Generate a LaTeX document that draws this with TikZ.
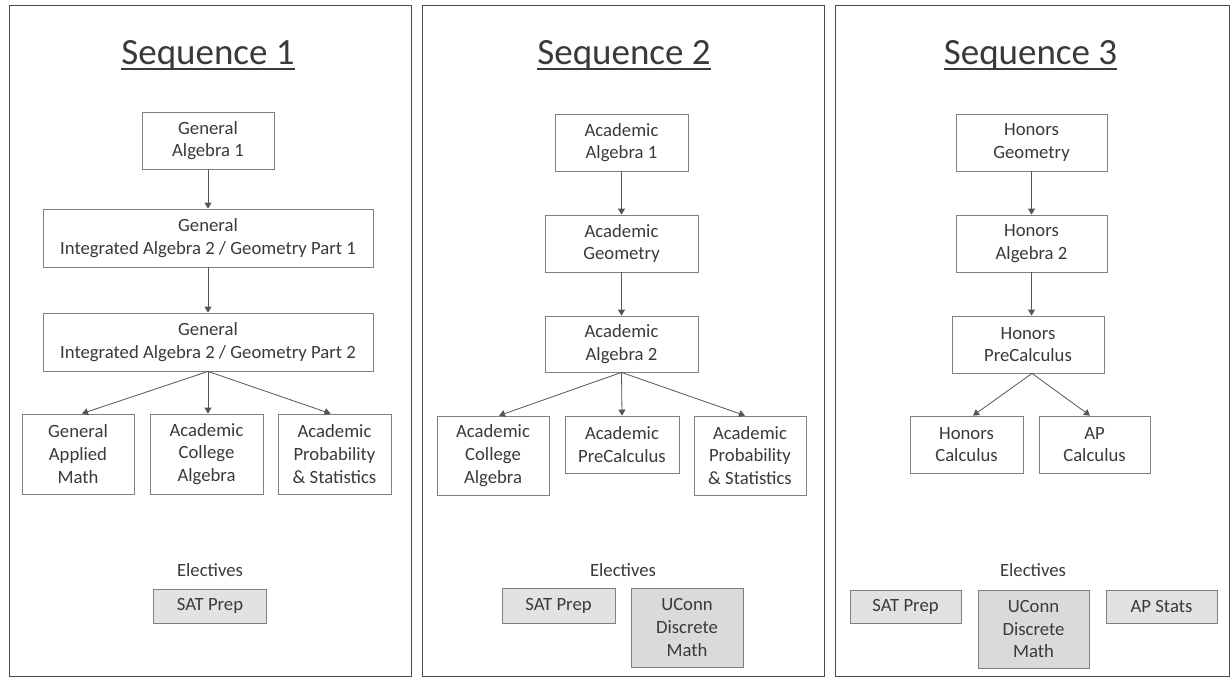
\documentclass[tikz,border=0pt]{standalone}
\usepackage{fontspec}
\setmainfont{Carlito}
\usetikzlibrary{arrows.meta}
\definecolor{txt}{HTML}{3A3A3A}
\definecolor{boxc}{HTML}{808080}
\definecolor{arrc}{HTML}{555555}
\definecolor{panc}{HTML}{4A4A4A}
\definecolor{elecfill}{HTML}{E2E2E2}
\definecolor{elecfillb}{HTML}{DADADA}
\begin{document}
\begin{tikzpicture}[x=1pt,y=-1pt,
 box/.style={draw=boxc, line width=0.8pt, text=txt, align=center, inner sep=0pt, font=\fontsize{18.7}{22.7}\selectfont},
 elec/.style={box, fill=elecfill},
 elecb/.style={box, fill=elecfillb},
 arr/.style={draw=arrc, line width=0.8pt, -{Triangle[length=6pt,width=7pt]}},
 panel/.style={draw=panc, line width=1pt},
 title/.style={text=txt, inner sep=0pt, anchor=base, font=\fontsize{37}{42}\selectfont},
 lbl/.style={text=txt, inner sep=0pt, font=\fontsize{18.7}{22.7}\selectfont}]
\useasboundingbox (0,0) rectangle (1231,677);
\fill[white] (0,0) rectangle (1231,677);
% panels
\draw[panel] (9,6) rectangle (411,676);
\draw[panel] (422,6) rectangle (824,676);
\draw[panel] (835,6) rectangle (1229,676);
% titles
\node[title] (t1) at (208,64) {Sequence 1};
\node[title] (t2) at (624,64) {Sequence 2};
\node[title] (t3) at (1030.5,64) {Sequence 3};
\foreach \t in {t1,t2,t3}
  \draw[txt, line width=1.2pt] ([yshift=-5pt]\t.base west) -- ([yshift=-5pt]\t.base east);
% ---- Sequence 1
\node[box, minimum width=132pt, minimum height=57pt] (g1) at (208,140.5) {General\\Algebra 1};
\node[box, minimum width=330pt, minimum height=58pt] (g2) at (208,238) {General\\Integrated Algebra 2 / Geometry Part 1};
\node[box, minimum width=330pt, minimum height=58pt] (g3) at (208,342) {General\\Integrated Algebra 2 / Geometry Part 2};
\node[box, minimum width=112pt, minimum height=80pt] (g4) at (78,454) {General\\Applied\\Math};
\node[box, minimum width=113pt, minimum height=80pt] (g5) at (206.5,454) {Academic\\College\\Algebra};
\node[box, minimum width=113pt, minimum height=80pt] (g6) at (334.5,454) {Academic\\Probability\\\& Statistics};
\draw[arr] (g1) -- (g2);
\draw[arr] (g2) -- (g3);
\draw[arr] (g3.south) -- ([xshift=4pt]g4.north);
\draw[arr] (g3.south) -- ([xshift=1.5pt]g5.north);
\draw[arr] (g3.south) -- ([xshift=-4pt]g6.north);
\node[lbl] (e1) at (210,570) {Electives};
\node[elec, minimum width=113pt, minimum height=34pt] (s1) at (210,606) {SAT Prep};
% ---- Sequence 2
\node[box, minimum width=133pt, minimum height=57pt] (a1) at (621.5,142.5) {Academic\\Algebra 1};
\node[box, minimum width=153pt, minimum height=57pt] (a2) at (621.5,243.5) {Academic\\Geometry};
\node[box, minimum width=153pt, minimum height=56pt] (a3) at (621.5,344) {Academic\\Algebra 2};
\node[box, minimum width=112pt, minimum height=79pt] (a4) at (493,455.5) {Academic\\College\\Algebra};
\node[box, minimum width=114pt, minimum height=57pt] (a5) at (622,444.5) {Academic\\PreCalculus};
\node[box, minimum width=112pt, minimum height=79pt] (a6) at (750,455.5) {Academic\\Probability\\\& Statistics};
\draw[arr] (a1) -- (a2);
\draw[arr] (a2) -- (a3);
\draw[arr] (a3.south) -- ([xshift=6pt]a4.north);
\draw[arr] (a3.south) -- (a5.north);
\draw[arr] (a3.south) -- ([xshift=-5pt]a6.north);
\node[lbl] (e2) at (623,570) {Electives};
\node[elec, minimum width=113pt, minimum height=35pt] (s2) at (558.5,605.5) {SAT Prep};
\node[elecb, minimum width=112pt, minimum height=79pt] (u2) at (687,627.5) {UConn\\Discrete\\Math};
% ---- Sequence 3
\node[box, minimum width=151pt, minimum height=57pt] (h1) at (1031.5,142.5) {Honors\\Geometry};
\node[box, minimum width=151pt, minimum height=57pt] (h2) at (1031.5,243.5) {Honors\\Algebra 2};
\node[box, minimum width=152pt, minimum height=57pt] (h3) at (1028,344.5) {Honors\\PreCalculus};
\node[box, minimum width=113pt, minimum height=57pt] (h4) at (966.5,444.5) {Honors\\Calculus};
\node[box, minimum width=111pt, minimum height=57pt] (h5) at (1094.5,444.5) {AP\\Calculus};
\draw[arr] (h1) -- (h2);
\draw[arr] (h2.south) -- (h2.south |- h3.north);
\draw[arr] ([xshift=4pt]h3.south) -- ([xshift=6.5pt]h4.north);
\draw[arr] ([xshift=4pt]h3.south) -- ([xshift=-4.5pt]h5.north);
\node[lbl] (e3) at (1033,570) {Electives};
\node[elec, minimum width=111pt, minimum height=33pt] (s3) at (905.5,606.5) {SAT Prep};
\node[elecb, minimum width=111pt, minimum height=78pt] (u3) at (1033.5,629) {UConn\\Discrete\\Math};
\node[elec, minimum width=111pt, minimum height=33pt] (p3) at (1161.5,606.5) {AP Stats};
\end{tikzpicture}
\end{document}
